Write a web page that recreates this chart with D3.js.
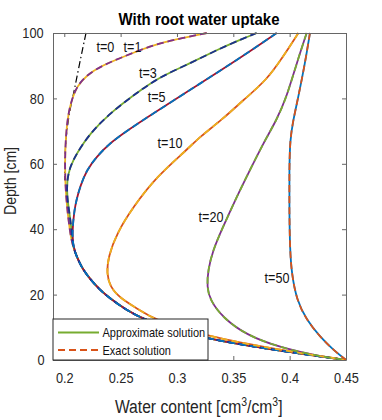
<!DOCTYPE html>
<html>
<head>
<meta charset="utf-8">
<script src="https://cdn.jsdelivr.net/npm/d3@7"></script>
<style>
body { margin: 0; background: #fff; }
svg { font-family: "Liberation Sans", Arial, sans-serif; }
.axis text { transform-box: fill-box; transform-origin: center; transform: scaleX(0.88); }
</style>
</head>
<body>
<div id="chart"></div>
<script>
// values: depth [cm] -> water content
var depth_t0 = [100, 95, 90.8, 85, 80.5, 76.5, 72, 67.3, 62, 55];
var theta_t0 = [0.2193, 0.2162, 0.2137, 0.2103, 0.2077, 0.2050, 0.2030, 0.2014, 0.2006, 0.2003];

var depth_t1 = [100, 98.5, 96.9, 94.8, 92.3, 90.2, 87.2, 83.6, 79.5, 75.4, 69.3, 60.2, 49.9, 38.8, 34.6, 30.6, 27.5, 24.5, 21.4, 18.9, 15.3, 12.5, 9.2, 6.4, 2.9, 0];
var theta_t1 = [0.3264, 0.3054, 0.2849, 0.2672, 0.2494, 0.2346, 0.2199, 0.2110, 0.2066, 0.2036, 0.2015, 0.2004, 0.2013, 0.2051, 0.2077, 0.2122, 0.2169, 0.2235, 0.2317, 0.2403, 0.2550, 0.2699, 0.2983, 0.3275, 0.3888, 0.45];

var depth_t3 = [100, 97.9, 94.8, 90.7, 86.6, 81.6, 75.4, 69.3, 63.2, 59.1, 55.0, 49.9, 43.8, 38.8, 34.6, 30.6, 27.5, 24.5, 21.4, 18.9, 15.3, 12.5, 9.2, 6.4, 2.9, 0];
var theta_t3 = [0.3707, 0.3559, 0.3353, 0.3116, 0.2849, 0.2639, 0.2403, 0.2228, 0.2110, 0.2051, 0.2024, 0.2024, 0.2051, 0.2068, 0.2077, 0.2122, 0.2169, 0.2235, 0.2317, 0.2403, 0.2550, 0.2699, 0.2983, 0.3275, 0.3888, 0.45];

var depth_t5 = [100, 92.3, 82.6, 75.4, 70.3, 66.3, 62.2, 58.1, 53.0, 48.9, 45.9, 39.8, 34.6, 30.6, 27.5, 24.5, 21.4, 18.9, 15.3, 12.5, 9.2, 6.4, 2.9, 0];
var theta_t5 = [0.3885, 0.3559, 0.3116, 0.2790, 0.2565, 0.2403, 0.2288, 0.2199, 0.2140, 0.2108, 0.2090, 0.2071, 0.2077, 0.2122, 0.2169, 0.2235, 0.2317, 0.2403, 0.2550, 0.2699, 0.2983, 0.3275, 0.3888, 0.45];

var depth_t10 = [100, 92.8, 85.6, 79.5, 73.4, 68.3, 64.2, 56.1, 46.9, 38.7, 31.6, 26.5, 22.4, 18.9, 15.3, 12.5, 7.1, 3.2, 0];
var theta_t10 = [0.4077, 0.3943, 0.3796, 0.3589, 0.3397, 0.3204, 0.3086, 0.2820, 0.2613, 0.2465, 0.2391, 0.2376, 0.2406, 0.2495, 0.2669, 0.2787, 0.3275, 0.3888, 0.45];

var depth_t20 = [100, 90.7, 80.5, 73.4, 66.3, 58.1, 49.9, 39.8, 33.6, 27.5, 22.4, 18.3, 12.8, 7.6, 3.8, 1.1, 0];
var theta_t20 = [0.4151, 0.4062, 0.3974, 0.3885, 0.3766, 0.3648, 0.3530, 0.3397, 0.3320, 0.3275, 0.3266, 0.3293, 0.3411, 0.3619, 0.3914, 0.4269, 0.45];

var depth_t50 = [100, 90.7, 80.5, 73.4, 67.3, 58.1, 45.9, 33.6, 26.5, 18.3, 12.2, 7.1, 3.1, 0];
var theta_t50 = [0.4180, 0.4136, 0.4077, 0.4032, 0.4003, 0.3997, 0.3997, 0.4003, 0.4018, 0.4062, 0.4151, 0.4269, 0.4387, 0.45];

var timeLabels = ["t=1", "t=3", "t=5", "t=10", "t=20", "t=50"];
var solidColors = ["#EDB120", "#77AC30", "#A2142F", "#D95319", "#7E2F8E", "#0072BD"];
var dashColors = ["#7E2F8E", "#1B2F8F", "#0072BD", "#EDB120", "#77AC30", "#D95319"];

// where the t= labels sit (water content, depth)
var labelNames = ["t=0", "t=1", "t=3", "t=5", "t=10", "t=20", "t=50"];
var labelTheta = [0.2365, 0.2605, 0.2742, 0.2820, 0.2938, 0.3302, 0.3888];
var labelDepth = [95.7, 95.7, 87.7, 80.3, 66.3, 43.8, 25.0];

var xTicks = [0.2, 0.25, 0.3, 0.35, 0.4, 0.45];
var yTicks = [0, 20, 40, 60, 80, 100];
var legendNames = ["Approximate solution", "Exact solution"];

var zip = (d, t) => d.map((v, i) => [v, t[i]]);
var curves = [zip(depth_t1, theta_t1), zip(depth_t3, theta_t3), zip(depth_t5, theta_t5),
    zip(depth_t10, theta_t10), zip(depth_t20, theta_t20), zip(depth_t50, theta_t50)];

var width = 382, height = 420;
var margin = {top: 33, right: 36, bottom: 60, left: 53};

var x = d3.scaleLinear().domain([0.19, 0.45]).range([margin.left, width - margin.right]);
var y = d3.scaleLinear().domain([0, 100]).range([height - margin.bottom, margin.top]);

var svg = d3.select("#chart").append("svg")
    .attr("width", width)
    .attr("height", height);

var line = d3.line()
    .x(d => x(d[1]))
    .y(d => y(d[0]))
    .curve(d3.curveBasis);

// initial condition
svg.append("path")
    .datum(zip(depth_t0, theta_t0))
    .attr("d", line)
    .attr("fill", "none")
    .attr("stroke", "#000")
    .attr("stroke-width", 1.2)
    .attr("stroke-dasharray", "7,3,1.5,3");

// approximate (solid) then exact (dashed)
svg.append("g").selectAll("path")
    .data(curves)
    .join("path")
    .attr("d", line)
    .attr("fill", "none")
    .attr("stroke", (d, i) => solidColors[i])
    .attr("stroke-width", 1.8);

svg.append("g").selectAll("path")
    .data(curves)
    .join("path")
    .attr("d", line)
    .attr("fill", "none")
    .attr("stroke", (d, i) => dashColors[i])
    .attr("stroke-width", 1.8)
    .attr("stroke-dasharray", "7,4");

// box + ticks
var axisColor = "#666";
var gx = svg.append("g").attr("class", "axis")
    .attr("transform", `translate(0,${y(0)})`)
    .call(d3.axisBottom(x).tickValues(xTicks).tickFormat(d => d).tickSizeInner(-4).tickSizeOuter(0).tickPadding(13));
var gy = svg.append("g").attr("class", "axis")
    .attr("transform", `translate(${x(0.19)},0)`)
    .call(d3.axisLeft(y).tickValues(yTicks).tickSizeInner(-4).tickSizeOuter(0).tickPadding(8));
var gt = svg.append("g")
    .attr("transform", `translate(0,${y(100)})`)
    .call(d3.axisTop(x).tickValues(xTicks).tickFormat("").tickSizeInner(-4).tickSizeOuter(0));
var gr = svg.append("g")
    .attr("transform", `translate(${x(0.45)},0)`)
    .call(d3.axisRight(y).tickValues(yTicks).tickFormat("").tickSizeInner(-4).tickSizeOuter(0));

[gx, gy, gt, gr].forEach(g => {
    g.select(".domain").attr("stroke", axisColor);
    g.selectAll(".tick line").attr("stroke", axisColor);
    g.selectAll("text").attr("fill", "#262626").style("font-size", "14.5px").style("font-family", "'Liberation Sans', Arial, sans-serif");
});

// t= labels
svg.append("g").selectAll("text")
    .data(labelNames)
    .join("text")
    .attr("transform", (d, i) => `translate(${x(labelTheta[i])},${y(labelDepth[i]) + 5}) scale(0.9,1)`)
    .attr("text-anchor", "middle")
    .attr("font-size", 14)
    .attr("fill", "#111")
    .text(d => d);

// legend
var lg = svg.append("g");
lg.append("rect")
    .attr("x", x(0.19)).attr("y", 319)
    .attr("width", 155).attr("height", y(0) - 319)
    .attr("fill", "#fff")
    .attr("stroke", "#262626")
    .attr("stroke-width", 1);
var legendRows = [332.5, 350];
lg.append("line")
    .attr("x1", 58).attr("x2", 99).attr("y1", legendRows[0]).attr("y2", legendRows[0])
    .attr("stroke", "#77AC30").attr("stroke-width", 1.8);
lg.append("line")
    .attr("x1", 58).attr("x2", 99).attr("y1", legendRows[1]).attr("y2", legendRows[1])
    .attr("stroke", "#D95319").attr("stroke-width", 1.8).attr("stroke-dasharray", "7,4");
lg.selectAll("text")
    .data(legendNames)
    .join("text")
    .attr("transform", (d, i) => `translate(102.5,${legendRows[i] + 4.5}) scale(0.88,1)`)
    .attr("font-size", 12.5)
    .attr("fill", "#111")
    .text(d => d);

// titles
svg.append("text")
    .attr("transform", `translate(199,25) scale(0.88,1)`)
    .attr("text-anchor", "middle")
    .attr("font-size", 17)
    .attr("font-weight", "bold")
    .attr("fill", "#000")
    .text("With root water uptake");

var xt = svg.append("text")
    .attr("transform", `translate(198.7,413) scale(0.87,1)`)
    .attr("text-anchor", "middle")
    .attr("font-size", 18)
    .attr("fill", "#262626");
xt.append("tspan").text("Water content [cm");
xt.append("tspan").attr("font-size", 12).attr("dy", -7).text("3");
xt.append("tspan").attr("dy", 7).text("/cm");
xt.append("tspan").attr("font-size", 12).attr("dy", -7).text("3");
xt.append("tspan").attr("dy", 7).text("]");

svg.append("text")
    .attr("transform", `translate(15.5,181) rotate(-90) scale(0.88,1)`)
    .attr("text-anchor", "middle")
    .attr("font-size", 16)
    .attr("fill", "#262626")
    .text("Depth [cm]");
</script>
</body>
</html>
